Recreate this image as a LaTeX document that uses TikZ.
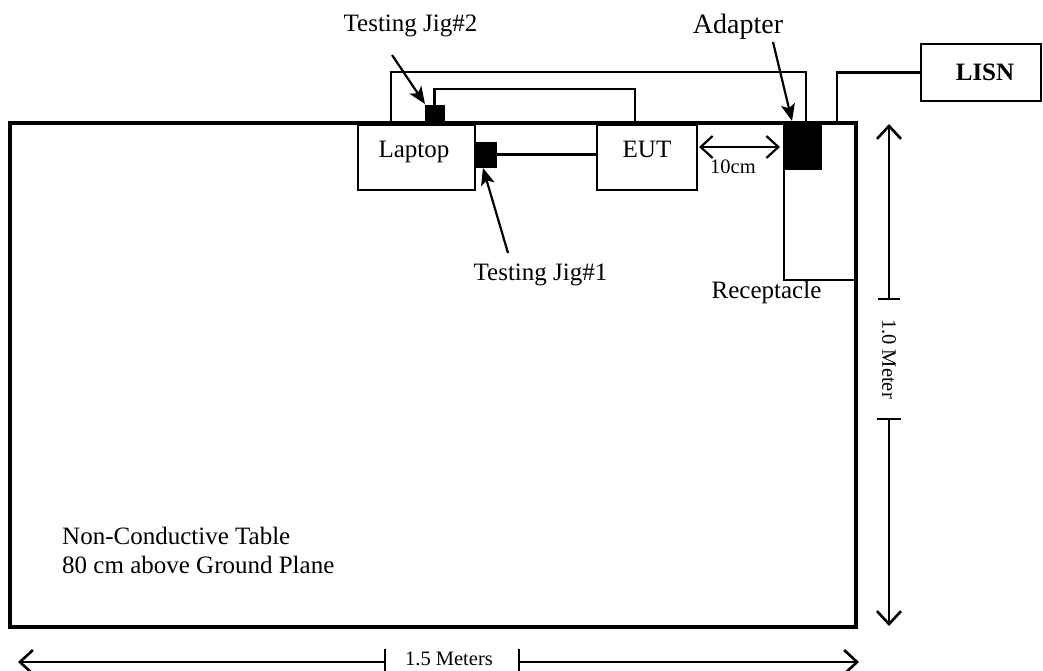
\documentclass[tikz,border=0pt]{standalone}
\usepackage{fontspec}
\setmainfont{Liberation Serif}
\usetikzlibrary{arrows.meta,calc}
\begin{document}
\begin{tikzpicture}[x=1pt,y=-1pt,
  box/.style={draw,line width=2.2pt,inner sep=0pt},
  blk/.style={fill=black,draw=black,line width=0.5pt,inner sep=0pt},
  cable/.style={line width=2.2pt},
  txt/.style={font=\fontsize{25}{29}\selectfont,inner sep=0pt,anchor=base},
  small/.style={font=\fontsize{20.5}{24}\selectfont,inner sep=0pt},
  pointer/.style={line width=2.2pt,-{Stealth[length=17pt,width=14pt,inset=4pt]}},
  dimline/.style={line width=2.2pt},
  bigbarb/.tip={Straight Barb[length=13pt,width=24pt,line width=2.6pt]},
  smallbarb/.tip={Straight Barb[length=12pt,width=22pt,line width=2.2pt]}
]
\useasboundingbox (0,0) rectangle (1043,670);

% table
\node[draw,line width=4pt,minimum width=846,minimum height=504,inner sep=0pt] (table) at (433,375) {};

% equipment boxes
\node[box,minimum width=117,minimum height=65] (laptop) at (416.5,157.5) {};
\node[box,minimum width=100,minimum height=65] (eut) at (647,157.5) {};
\node[box,minimum width=72,minimum height=157] (recept) at (820,201.5) {};
\node[box,minimum width=120,minimum height=57] (lisn) at (981,72.5) {};

% black jigs and adapter
\node[blk,minimum width=19,minimum height=18] (jigtwo) at (434.5,114) {};
\node[blk,minimum width=20,minimum height=25] (jigone) at (486,154.5) {};
\node[blk,minimum width=37,minimum height=46] (adapter) at (802.5,146) {};

% box texts
\node[txt] (laptoptxt) at (414,157) {Laptop};
\node[txt] (euttxt) at (647,157) {EUT};
\node[txt,font=\bfseries\fontsize{25}{29}\selectfont] (lisntxt) at (985,80) {LISN};

% cables
\coordinate (c2top) at (635,89);
\coordinate (c2end) at (635,123);
\draw[cable] (jigtwo.north) |- (c2top) -- (c2end);
\draw[cable] (jigone.east) -- (jigone.east -| eut.west);
\coordinate (c1start) at (391,123);
\coordinate (c1top) at (806,72);
\coordinate (c1end) at (806,123);
\draw[cable] (c1start) |- (c1top) -- (c1end);
\coordinate (c3start) at (837,123);
\draw[cable] (c3start) |- (lisn.west);

% labels with pointers
\node[txt,font=\fontsize{28}{32}\selectfont] (adaptertxt) at (738,33) {Adapter};
\coordinate (adp0) at (773,42);
\coordinate (adp1) at (792,121);
\draw[pointer] (adp0) -- (adp1);

\node[txt] (jig2txt) at (410.5,31) {Testing Jig\#2};
\coordinate (j20) at (392,55);
\coordinate (j21) at (425,104);
\draw[pointer] (j20) -- (j21);

\node[txt] (jig1txt) at (540.5,280) {Testing Jig\#1};
\coordinate (j10) at (508,253);
\coordinate (j11) at (483,168);
\draw[pointer] (j10) -- (j11);

\node[txt] (recepttxt) at (766.5,298) {Receptacle};

\node[txt] (nct1) at (62,544) [anchor=base west] {Non-Conductive Table};
\node[txt] (nct2) at (62,573) [anchor=base west] {80 cm above Ground Plane};

% 10cm
\coordinate (t0) at (699,147);
\coordinate (t1) at (780,147);
\draw[dimline,smallbarb-smallbarb] (t0) -- (t1);
\node[small,anchor=base] (tencm) at (733,173) {10cm};

% vertical 1.0 Meter
\coordinate (v0) at (889,124);
\coordinate (v1) at (889,299);
\coordinate (v2) at (889,419);
\coordinate (v3) at (889,626);
\draw[dimline,bigbarb-] (v0) -- (v1);
\draw[dimline,-bigbarb] (v2) -- (v3);
\draw[dimline] ($(v1)+(-11,0)$) -- ($(v1)+(11,0)$);
\draw[dimline] ($(v2)+(-12,0)$) -- ($(v2)+(12,0)$);
\node[small,rotate=-90] (meter) at (889,359) {1.0 Meter};

% horizontal 1.5 Meters
\coordinate (h0) at (18,662);
\coordinate (h1) at (385,662);
\coordinate (h2) at (519,662);
\coordinate (h3) at (859,662);
\draw[dimline,bigbarb-] (h0) -- (h1);
\draw[dimline,-bigbarb] (h2) -- (h3);
\draw[dimline] ($(h1)+(0,-13)$) -- ($(h1)+(0,10)$);
\draw[dimline] ($(h2)+(0,-13)$) -- ($(h2)+(0,10)$);
\node[small,anchor=base] (meters) at (449,665) {1.5 Meters};
\end{tikzpicture}
\end{document}
